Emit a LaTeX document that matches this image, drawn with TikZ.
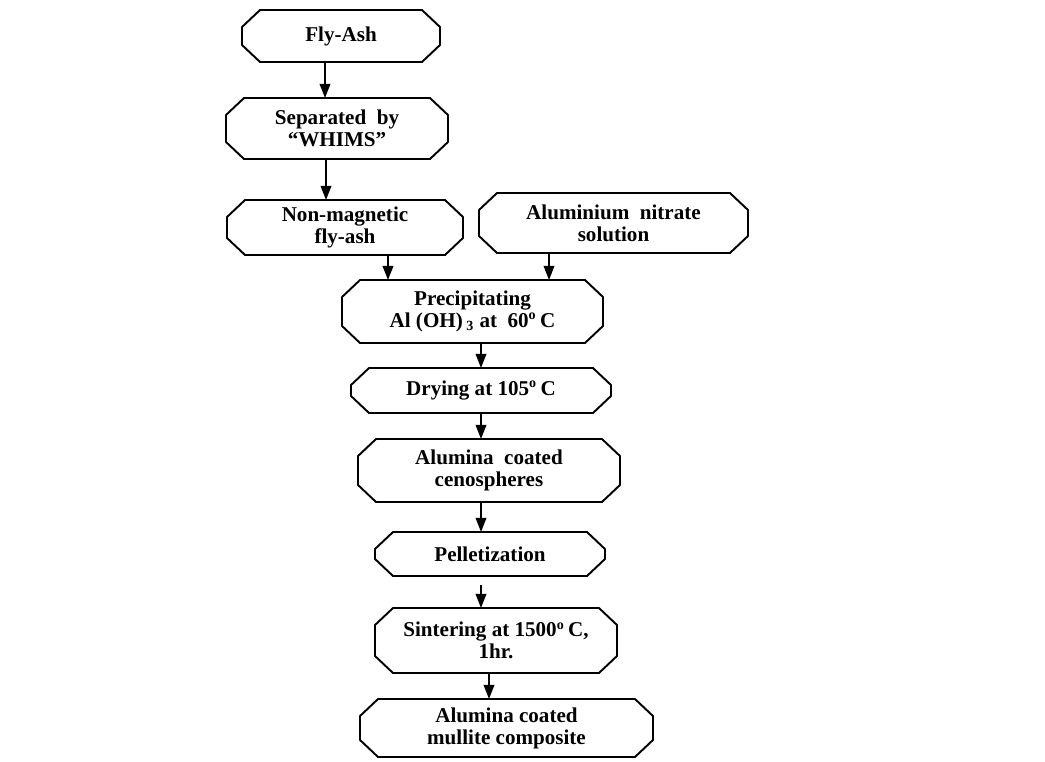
\documentclass[tikz,border=0pt]{standalone}
\usepackage{fontspec}
\setmainfont{Liberation Serif}
\usetikzlibrary{arrows.meta}

\tikzset{
  procbox/.style={rectangle, outer sep=0pt, inner sep=1pt, align=center,
    font=\fontsize{12}{12.5}\selectfont\bfseries},
  boxline/.style={line width=1.1pt, line join=round},
  flow/.style={line width=1pt, -{Triangle[length=8pt,width=6pt]}}
}
% chamfered outline round a named node
\newcommand{\octbox}[1]{%
  \draw[boxline] ([xshift=0.36cm]#1.north west) -- ([xshift=-0.36cm]#1.north east)
    -- ([yshift=-0.34cm]#1.north east) -- ([yshift=0.34cm]#1.south east)
    -- ([xshift=-0.36cm]#1.south east) -- ([xshift=0.36cm]#1.south west)
    -- ([yshift=0.34cm]#1.south west) -- ([yshift=-0.34cm]#1.north west) -- cycle;}

\begin{document}
\begin{tikzpicture}[x=0.02cm,y=-0.02cm]
        \useasboundingbox (0,0) rectangle (1045,761);

        % Left branch
        \node[procbox, minimum width=3.96cm, minimum height=1.04cm] (flyash) at (341,36) {Fly-Ash};
        \node[procbox, minimum width=4.44cm, minimum height=1.22cm] (whims) at (337,128.5) {Separated\ \ by\\``WHIMS''};
        \node[procbox, minimum width=4.72cm, minimum height=1.10cm] (nonmag) at (345,227.5) {Non-magnetic\\fly-ash};

        % Right branch
        \node[procbox, minimum width=5.38cm, minimum height=1.20cm] (nitrate) at (613.5,223) {Aluminium\ \ nitrate\\solution};

        % Main column
        \node[procbox, minimum width=5.22cm, minimum height=1.26cm] (precip) at (472.5,311.5) {Precipitating\\Al (OH)\,\textsubscript{3} at\ \ 60\textsuperscript{o}\,C};
        \node[procbox, minimum width=5.20cm, minimum height=0.90cm] (drying) at (481,390.5) {Drying at 105\textsuperscript{o}\,C};
        \node[procbox, minimum width=5.24cm, minimum height=1.26cm] (ceno) at (489,470.5) {Alumina\ \ coated\\cenospheres};
        \node[procbox, minimum width=4.60cm, minimum height=0.88cm] (pellet) at (490,554) {Pelletization};
        \node[procbox, minimum width=4.84cm, minimum height=1.30cm] (sinter) at (496,640.5) {Sintering at 1500\textsuperscript{o}\,C,\\1hr.};
        \node[procbox, minimum width=5.86cm, minimum height=1.16cm] (final) at (506.5,728) {Alumina coated\\mullite composite};

        % Outlines
        \foreach \n in {flyash,whims,nonmag,nitrate,precip,drying,ceno,pellet,sinter,final}
            {\octbox{\n}}

        % Arrows
        \draw[flow] ([xshift=-0.32cm]flyash.south) -- ([xshift=-0.32cm]flyash.south |- whims.north);
        \draw[flow] ([xshift=-0.22cm]whims.south) -- ([xshift=-0.22cm]whims.south |- nonmag.north);
        \draw[flow] ([xshift=0.86cm]nonmag.south) -- ([xshift=0.86cm]nonmag.south |- precip.north);
        \draw[flow] ([xshift=-1.29cm]nitrate.south) -- ([xshift=-1.29cm]nitrate.south |- precip.north);
        \draw[flow] (precip.south -| drying.north) -- (drying.north);
        \draw[flow] (drying.south) -- (drying.south |- ceno.north);
        \draw[flow] (ceno.south -| drying.south) -- (drying.south |- pellet.north);
        \draw[flow, shorten <=0.18cm] (pellet.south -| drying.south) -- (drying.south |- sinter.north);
        \draw[flow] ([xshift=-0.14cm]sinter.south) -- ([xshift=-0.14cm]sinter.south |- final.north);
    \end{tikzpicture}
\end{document}
